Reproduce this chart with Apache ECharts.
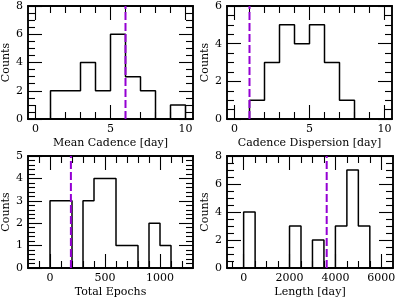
<!DOCTYPE html>
<html>
<head>
<meta charset="utf-8">
<script src="https://cdn.jsdelivr.net/npm/echarts@6/dist/echarts.min.js"></script>
<style>
html,body{margin:0;padding:0;background:#fff;}
#chart{width:399px;height:299px;}
</style>
</head>
<body>
<div id="chart"></div>
<script>
// ---- data ----
const meanCadenceEdges  = [0, 1, 2, 3, 4, 5, 6, 7, 8, 9, 10];
const meanCadenceCounts = [0, 2, 2, 4, 2, 6, 3, 2, 0, 1];
const meanCadenceMedian = 6.0;

const cadenceDispEdges  = [1, 2, 3, 4, 5, 6, 7, 8];
const cadenceDispCounts = [1, 3, 5, 4, 5, 3, 1];
const cadenceDispMedian = 1.0;

const epochsEdges  = [0, 100, 200, 300, 400, 500, 600, 700, 800, 900, 1000, 1100];
const epochsCounts = [3, 3, 0, 3, 4, 4, 1, 1, 0, 2, 1];
const epochsMedian = 190;

const lengthEdges  = [0, 500, 1000, 1500, 2000, 2500, 3000, 3500, 4000, 4500, 5000, 5500];
const lengthCounts = [4, 0, 0, 0, 3, 0, 2, 0, 3, 7, 3];
const lengthMedian = 3620;

// tick labels / tick positions
const cadenceMajorTicks = [0, 5, 10];
const cadenceMinorTicks = [1, 2, 3, 4, 6, 7, 8, 9];
const epochsMajorTicks  = [0, 500, 1000];
const epochsMinorTicks  = [-100, 100, 200, 300, 400, 600, 700, 800, 900, 1100, 1200];
const lengthMajorTicks  = [0, 2000, 4000, 6000];
const lengthMinorTicks  = [-500, 500, 1000, 1500, 2500, 3000, 3500, 4500, 5000, 5500];

const xNames = ['Mean Cadence [day]', 'Cadence Dispersion [day]', 'Total Epochs', 'Length [day]'];
const yName = 'Counts';

// ---- layout/styling ----
const FONT = 'DejaVu Serif';
const panels = [
  {edges: meanCadenceEdges, counts: meanCadenceCounts, median: meanCadenceMedian,
   xmin: -0.5, xmax: 10.5, major: cadenceMajorTicks, minor: cadenceMinorTicks,
   ymax: 8, yint: 2, ysplit: 4, grid: {left: 28, top: 6, width: 165, height: 113}},
  {edges: cadenceDispEdges, counts: cadenceDispCounts, median: cadenceDispMedian,
   xmin: -0.5, xmax: 10.5, major: cadenceMajorTicks, minor: cadenceMinorTicks,
   ymax: 6, yint: 2, ysplit: 4, grid: {left: 227, top: 6, width: 165, height: 113}},
  {edges: epochsEdges, counts: epochsCounts, median: epochsMedian,
   xmin: -200, xmax: 1300, major: epochsMajorTicks, minor: epochsMinorTicks,
   ymax: 5, yint: 1, ysplit: 5, grid: {left: 28, top: 156, width: 165, height: 113}},
  {edges: lengthEdges, counts: lengthCounts, median: lengthMedian,
   xmin: -725, xmax: 6510, major: lengthMajorTicks, minor: lengthMinorTicks,
   ymax: 8, yint: 2, ysplit: 4, grid: {left: 227, top: 156, width: 166, height: 113}}
];

function stepPoints(edges, counts) {
  const pts = [[edges[0], 0]];
  counts.forEach((c, i) => { pts.push([edges[i], c]); pts.push([edges[i + 1], c]); });
  pts.push([edges[edges.length - 1], 0]);
  return pts;
}

const tickStyle = {color: '#000', width: 1.1};
const textStyle = {fontFamily: FONT, fontSize: 11, color: '#000'};
const frameLine = {show: true, onZero: false, lineStyle: {color: '#000', width: 1.5}};
const grids = [], xAxes = [], yAxes = [], series = [];

panels.forEach((p, g) => {
  grids.push(Object.assign({show: true, borderColor: '#000', borderWidth: 1.5,
    backgroundColor: 'transparent', containLabel: false}, p.grid));
  const mainX = xAxes.length;
  ['bottom', 'top'].forEach(pos => {
    [[p.major, 14], [p.minor, 7]].forEach(([vals, len], k) => {
      const ax = {
        gridIndex: g, type: 'value', position: pos, min: p.xmin, max: p.xmax,
        axisLine: frameLine, splitLine: {show: false},
        axisTick: {show: true, inside: true, length: len, customValues: vals, lineStyle: tickStyle},
        axisLabel: {show: false}
      };
      if (pos === 'bottom' && k === 0) {
        ax.axisLabel = Object.assign({show: true, customValues: vals, margin: 5,
          formatter: v => String(v)}, textStyle);
        ax.name = xNames[g];
        ax.nameLocation = 'middle';
        ax.nameGap = 19;
        ax.nameTextStyle = Object.assign({}, textStyle);
      }
      xAxes.push(ax);
    });
  });
  const mainY = yAxes.length;
  ['left', 'right'].forEach(pos => {
    const ay = {
      gridIndex: g, type: 'value', position: pos, min: 0, max: p.ymax, interval: p.yint,
      axisLine: frameLine, splitLine: {show: false},
      axisTick: {show: true, inside: true, length: 14, lineStyle: tickStyle},
      minorTick: {show: true, splitNumber: p.ysplit, length: 7, lineStyle: tickStyle},
      minorSplitLine: {show: false},
      axisLabel: {show: false}
    };
    if (pos === 'left') {
      ay.axisLabel = Object.assign({show: true, margin: 5}, textStyle);
      ay.name = yName;
      ay.nameLocation = 'middle';
      ay.nameGap = 16;
      ay.nameTextStyle = Object.assign({}, textStyle);
    }
    yAxes.push(ay);
  });
  series.push({
    type: 'line', xAxisIndex: mainX, yAxisIndex: mainY,
    data: stepPoints(p.edges, p.counts), symbol: 'none', showSymbol: false,
    lineStyle: {color: '#000', width: 1.5}, silent: true, z: 3, clip: true
  });
  series.push({
    type: 'line', xAxisIndex: mainX, yAxisIndex: mainY,
    data: [[p.median, 0], [p.median, p.ymax]], symbol: 'none', showSymbol: false,
    lineStyle: {color: '#9400d3', width: 2, type: [8, 3]}, silent: true, z: 4
  });
});

const chart = echarts.init(document.getElementById('chart'), null, {renderer: 'canvas'});
chart.setOption({
  animation: false,
  backgroundColor: '#fff',
  grid: grids,
  xAxis: xAxes,
  yAxis: yAxes,
  series: series
});
</script>
</body>
</html>
